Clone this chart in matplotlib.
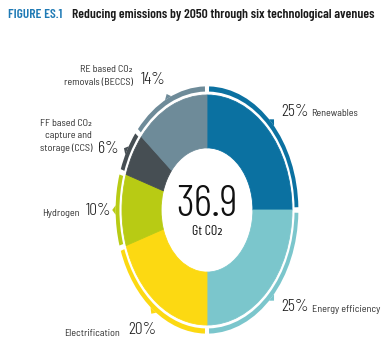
import numpy as np
import matplotlib
matplotlib.use("Agg")
import matplotlib.pyplot as plt
from matplotlib.patches import Wedge, Polygon

# chart data (share of 36.9 Gt CO2 reduction, clockwise from the top)
names = ["Renewables", "Energy efficiency", "Electrification", "Hydrogen",
         "FF based CO\u2082\ncapture and\nstorage (CCS)", "RE based CO\u2082\nremovals (BECCS)"]
shares = [25, 25, 20, 10, 6, 14]
colours = ["#0b71a1", "#7bc6cc", "#fcd912", "#b8cb14", "#464e53", "#6e8b99"]
total_label = "36.9"
unit_label = "Gt CO\u2082"

W, H = 388, 346
fig = plt.figure(figsize=(W / 100, H / 100), dpi=100)
ax = fig.add_axes([0, 0, 1, 1])

# donut; the source picture is squeezed sideways, so the axes are not equal
wedges, _ = ax.pie(shares, colors=colours, startangle=90, counterclock=False,
                   radius=1.0, wedgeprops=dict(width=0.46, linewidth=0.6))
for w in wedges:
    w.set_edgecolor(w.get_facecolor())
ax.set_aspect("auto")
cx, cy = 207, 210          # centre in pixels
sx, sy = 85, 115           # pixels per data unit
ax.set_xlim(-cx / sx, (W - cx) / sx)
ax.set_ylim(-(H - cy) / sy, cy / sy)
ax.axis("off")

# outer thin ring with gaps and small pointers
r_out, r_w, gap = 1.075, 0.045, 1.3
bounds = 90 - 3.6 * np.concatenate([[0], np.cumsum(shares)])
for i, c in enumerate(colours):
    a1, a0 = bounds[i], bounds[i + 1]
    ax.add_patch(Wedge((0, 0), r_out, a0 + gap, a1 - gap, width=r_w,
                       facecolor=c, edgecolor="none"))
    mid = np.radians((a0 + a1) / 2)
    half = np.radians(2.2)
    pts = [(r_out * np.cos(mid - half), r_out * np.sin(mid - half)),
           (r_out * np.cos(mid + half), r_out * np.sin(mid + half)),
           (1.115 * np.cos(mid), 1.115 * np.sin(mid))]
    ax.add_patch(Polygon(pts, closed=True, facecolor=c, edgecolor="none"))

# centre text
ax.text(0, 0.04, total_label, ha="center", va="center", fontsize=32,
        family="Barlow Condensed", fontweight=300, color="#111111")
ax.text(0, -0.19, unit_label, ha="center", va="center", fontsize=10,
        family=["Barlow Condensed", "DejaVu Sans"], color="#111111")

lab_font = dict(family=["Barlow Semi Condensed", "DejaVu Sans"], fontsize=7.3,
                color="#2e2e2e", linespacing=1.45)
pct_font = dict(family="Barlow Condensed", fontweight=300, fontsize=12.5,
                color="#1e1e1e")


def fx(px):
    return px / W


def fy(py):
    return 1 - py / H


# (label right-or-left edge, label y, pct x, pct y, label side)
spots = [(311, 113, 281, 112, "right"),
         (312, 310, 281, 307, "right"),
         (120, 333, 128, 330, "left"),
         (80, 213, 86, 211, "left"),
         (92, 136, 98, 149, "left"),
         (133, 76, 141, 80, "left")]

for name, s, (lx, ly, px, py, side) in zip(names, shares, spots):
    fig.text(fx(px), fy(py), f"{s}%", ha="left", va="center", **pct_font)
    if side == "right":
        fig.text(fx(lx), fy(ly), name, ha="left", va="center", **lab_font)
    else:
        fig.text(fx(lx), fy(ly), name, ha="right", va="center",
                 multialignment="right", **lab_font)

# title
fig.text(fx(8), fy(15), "FIGURE ES.1", ha="left", va="center", fontsize=9.7,
         family="Barlow Condensed", fontweight=600, color="#1f7ab5")
fig.text(fx(72), fy(15), "Reducing emissions by 2050 through six technological avenues",
         ha="left", va="center", fontsize=9.7, family="Barlow Condensed",
         fontweight=600, color="#1a1a1a")

fig.savefig("out.png", dpi=100)
